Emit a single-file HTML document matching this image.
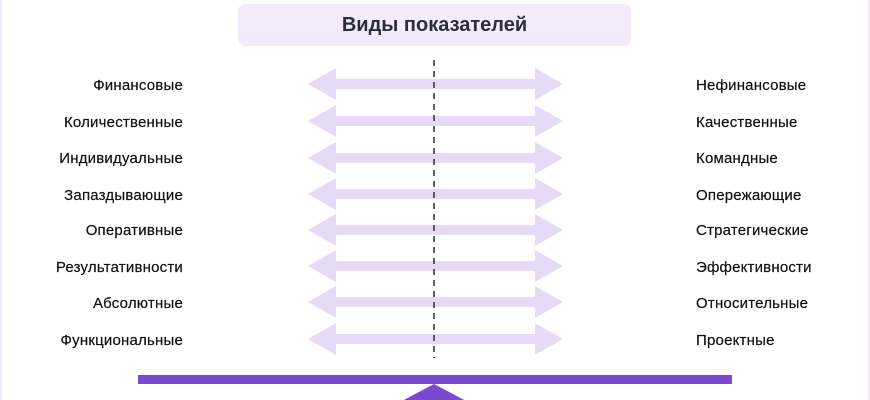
<!DOCTYPE html>
<html><head><meta charset="utf-8"><style>
body{margin:0;width:870px;height:400px;background:#fff;position:relative;overflow:hidden;font-family:"Liberation Sans",sans-serif}
.hdr{position:absolute;left:238px;top:4px;width:393px;height:42px;background:#f3ebfc;border-radius:7px;text-align:center;line-height:43px;font-weight:bold;font-size:20px;color:#2a2f36}
.l,.r{position:absolute;font-size:15px;letter-spacing:0.2px;color:#111;line-height:16px;-webkit-text-stroke:0.2px #111}
.l{right:687px;text-align:right}
.r{left:696px}
</style></head><body>
<div style="position:absolute;left:0;top:0;width:2px;height:400px;background:#f1eafb"></div>
<div style="position:absolute;right:0;top:0;width:2px;height:400px;background:#f1eafb"></div>
<div class="hdr">Виды показателей</div>
<svg width="870" height="400" style="position:absolute;left:0;top:0">
<defs><polygon id="a" points="308,0 336,-16 336,-5 535,-5 535,-16 563,0 535,16 535,5 336,5 336,16"/></defs>
<g fill="#e6daf7">
<use href="#a" y="84"/><use href="#a" y="121"/><use href="#a" y="158"/><use href="#a" y="194"/><use href="#a" y="230"/><use href="#a" y="266"/><use href="#a" y="302"/><use href="#a" y="339"/>
</g>
<line x1="434" y1="60" x2="434" y2="358" stroke="#2a2f36" stroke-width="1.5" stroke-dasharray="6,5"/>
<rect x="138" y="375" width="594" height="9" fill="#7b48d0"/>
<polygon points="434,384 400,402 468,402" fill="#7b48d0"/>
</svg>
<div class="l" style="top:78px">Финансовые</div>
<div class="l" style="top:115px">Количественные</div>
<div class="l" style="top:151px">Индивидуальные</div>
<div class="l" style="top:188px">Запаздывающие</div>
<div class="l" style="top:223px">Оперативные</div>
<div class="l" style="top:260px">Результативности</div>
<div class="l" style="top:296px">Абсолютные</div>
<div class="l" style="top:333px">Функциональные</div>
<div class="r" style="top:78px">Нефинансовые</div>
<div class="r" style="top:115px">Качественные</div>
<div class="r" style="top:151px">Командные</div>
<div class="r" style="top:188px">Опережающие</div>
<div class="r" style="top:223px">Стратегические</div>
<div class="r" style="top:260px">Эффективности</div>
<div class="r" style="top:296px">Относительные</div>
<div class="r" style="top:333px">Проектные</div>
</body></html>
